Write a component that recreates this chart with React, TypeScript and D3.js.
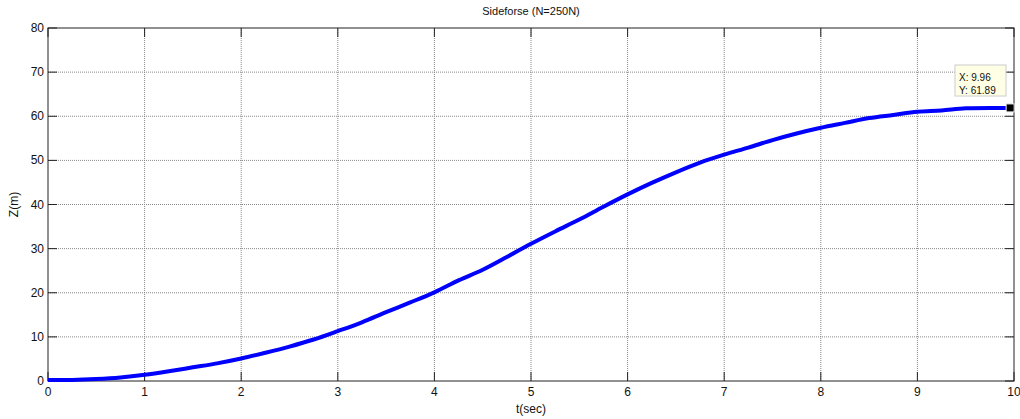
import React from 'react';
import * as d3 from 'd3';

// time (sec) and Z (m)
const tValues = [0, 0.25, 0.5, 0.75, 1, 1.25, 1.5, 1.75, 2, 2.25, 2.5, 2.75, 3, 3.25, 3.5, 3.75, 4, 4.25, 4.5, 4.75, 5, 5.25, 5.5, 5.75, 6, 6.25, 6.5, 6.75, 7, 7.25, 7.5, 7.75, 8, 8.25, 8.5, 8.75, 9, 9.25, 9.5, 9.75, 9.96];
const zValues = [0.2, 0.25, 0.45, 0.8, 1.4, 2.2, 3.1, 4.0, 5.1, 6.4, 7.8, 9.4, 11.3, 13.3, 15.6, 17.8, 20.1, 22.8, 25.2, 28.1, 31.1, 33.9, 36.6, 39.5, 42.3, 44.9, 47.3, 49.5, 51.3, 52.9, 54.6, 56.1, 57.4, 58.5, 59.6, 60.3, 61.0, 61.3, 61.8, 61.88, 61.89];
const xTicks = [0, 1, 2, 3, 4, 5, 6, 7, 8, 9, 10];
const yTicks = [0, 10, 20, 30, 40, 50, 60, 70, 80];
const tipX = 9.96;
const tipY = 61.89;

const W = 1020;
const H = 419;
const left = 48, right = 1014, top = 28, bottom = 381;
const font = 'Liberation Sans, Arial, sans-serif';

export default function App() {
  const x = d3.scaleLinear().domain([0, 10]).range([left, right]);
  const y = d3.scaleLinear().domain([0, 80]).range([bottom, top]);
  const data = tValues.map((t, i) => ({ t, z: zValues[i] }));
  const line = d3.line<{ t: number; z: number }>()
    .x(d => x(d.t))
    .y(d => y(d.z))
    .curve(d3.curveMonotoneX);

  const px = x(tipX);
  const py = y(tipY);

  return (
    <svg width={W} height={H} style={{ position: 'absolute', left: 0, top: 0 }}>
      <rect x={0} y={0} width={W} height={H} fill="#fff" />
      {/* grid */}
      {xTicks.slice(1, -1).map(t => (
        <line key={'gx' + t} x1={x(t)} x2={x(t)} y1={top} y2={bottom}
          stroke="#888" strokeWidth={1} strokeDasharray="1,1" />
      ))}
      {yTicks.slice(1, -1).map(t => (
        <line key={'gy' + t} x1={left} x2={right} y1={y(t)} y2={y(t)}
          stroke="#888" strokeWidth={1} strokeDasharray="1,1" />
      ))}
      {/* ticks */}
      {xTicks.map(t => (
        <g key={'tx' + t}>
          <line x1={x(t)} x2={x(t)} y1={bottom} y2={bottom - 9} stroke="#222" />
          <line x1={x(t)} x2={x(t)} y1={top} y2={top + 9} stroke="#222" />
          <text x={x(t)} y={bottom + 15} textAnchor="middle" fontFamily={font} fontSize={12} fill="#111">{t}</text>
        </g>
      ))}
      {yTicks.map(t => (
        <g key={'ty' + t}>
          <line x1={left} x2={left + 9} y1={y(t)} y2={y(t)} stroke="#222" />
          <line x1={right} x2={right - 9} y1={y(t)} y2={y(t)} stroke="#222" />
          <text x={left - 4} y={y(t) + 4} textAnchor="end" fontFamily={font} fontSize={12} fill="#111">{t}</text>
        </g>
      ))}
      {/* axes box */}
      <rect x={left} y={top} width={right - left} height={bottom - top} fill="none" stroke="#222" strokeWidth={1} />
      {/* curve */}
      <path d={line(data) || ''} fill="none" stroke="#0000ff" strokeWidth={4} />
      {/* data tip */}
      <rect x={px - 4} y={py - 4} width={8} height={8} fill="#000" stroke="#eee" strokeWidth={1} />
      <rect x={955} y={65} width={51} height={31} fill="#ffffe6" stroke="#ccc" strokeWidth={1} />
      <text x={959} y={81} fontFamily={font} fontSize={10} fill="#111">{`X: ${tipX}`}</text>
      <text x={959} y={94} fontFamily={font} fontSize={10} fill="#111">{`Y: ${tipY}`}</text>
      {/* labels */}
      <text x={(left + right) / 2} y={15} textAnchor="middle" fontFamily={font} fontSize={11} fill="#111">Sideforse (N=250N)</text>
      <text x={(left + right) / 2} y={413} textAnchor="middle" fontFamily={font} fontSize={12} fill="#111">t(sec)</text>
      <text transform={`translate(18,${(top + bottom) / 2}) rotate(-90)`} textAnchor="middle" fontFamily={font} fontSize={12} fill="#111">Z(m)</text>
    </svg>
  );
}
